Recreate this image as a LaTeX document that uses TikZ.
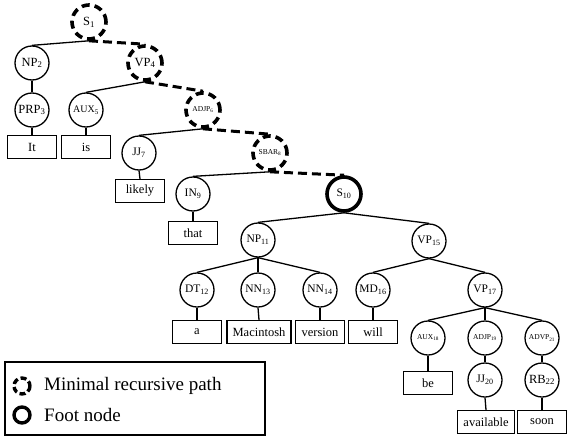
\documentclass[tikz,border=0pt]{standalone}
\usepackage{fontspec}
\setmainfont{Liberation Serif}
\usetikzlibrary{positioning}

\begin{document}
\begin{tikzpicture}[x=1pt, y=-1pt,
  tnode/.style={shape=circle, draw, line width=1.3pt, minimum size=34pt, inner sep=+0pt, font=\fontsize{11.5}{12}\selectfont},
  rnode/.style={tnode, line width=3.6pt, dash pattern=on 8pt off 5pt},
  foot/.style={tnode, line width=3.6pt},
  leaf/.style={shape=rectangle, draw, line width=1.3pt, minimum width=49pt, minimum height=23pt, inner sep=+2pt, font=\fontsize{12.5}{13}\selectfont},
  edge/.style={line width=1.3pt},
  redge/.style={line width=3pt, dash pattern=on 9pt off 5pt},
  tiny/.style={font=\fontsize{7.5}{8}\selectfont}]
  \useasboundingbox (0,0) rectangle (567,439);

  % internal nodes
  \node[rnode, font=\fontsize{12.5}{13}\selectfont] (s1) at (89,22) {S\textsubscript{1}};
  \node[tnode, font=\fontsize{12.5}{13}\selectfont] (np2) at (32,63) {NP\textsubscript{2}};
  \node[rnode, font=\fontsize{12.5}{13}\selectfont] (vp4) at (145,63) {VP\textsubscript{4}};
  \node[tnode, font=\fontsize{12.5}{13}\selectfont] (prp3) at (32,110) {PRP\textsubscript{3}};
  \node[tnode, font=\fontsize{10}{11}\selectfont] (aux5) at (86,110) {AUX\textsubscript{5}};
  \node[rnode, tiny] (adjp6) at (203,110) {ADJP\textsubscript{6}};
  \node[tnode] (jj7) at (139,153) {JJ\textsubscript{7}};
  \node[rnode, tiny] (sbar8) at (270,153) {SBAR\textsubscript{8}};
  \node[tnode] (in9) at (193,194) {IN\textsubscript{9}};
  \node[foot] (s10) at (344,194) {S\textsubscript{10}};
  \node[tnode] (np11) at (258,240) {NP\textsubscript{11}};
  \node[tnode] (vp15) at (429,241) {VP\textsubscript{15}};
  \node[tnode] (dt12) at (197,290) {DT\textsubscript{12}};
  \node[tnode] (nn13) at (258,290) {NN\textsubscript{13}};
  \node[tnode] (nn14) at (320,290) {NN\textsubscript{14}};
  \node[tnode] (md16) at (373,290) {MD\textsubscript{16}};
  \node[tnode] (vp17) at (485,290) {VP\textsubscript{17}};
  \node[tnode, tiny] (aux18) at (428,338) {AUX\textsubscript{18}};
  \node[tnode, tiny] (adjp19) at (485,338) {ADJP\textsubscript{19}};
  \node[tnode, tiny] (advp21) at (542,338) {ADVP\textsubscript{21}};
  \node[tnode] (jj20) at (485,380) {JJ\textsubscript{20}};
  \node[tnode, font=\fontsize{12.5}{13}\selectfont] (rb22) at (542,380) {RB\textsubscript{22}};

  % words
  \node[leaf] (w1) at (32,147) {It};
  \node[leaf] (w2) at (86,147) {is};
  \node[leaf] (w3) at (140,191) {likely};
  \node[leaf] (w4) at (193,233) {that};
  \node[leaf] (w5) at (197,332) {a};
  \node[leaf, minimum width=64pt] (w6) at (259,332) {Macintosh};
  \node[leaf] (w7) at (320,332) {version};
  \node[leaf] (w8) at (373,332) {will};
  \node[leaf] (w9) at (428,383) {be};
  \node[leaf, minimum width=57pt] (w10) at (486,422) {available};
  \node[leaf] (w11) at (542,422) {soon};

  % branches
  \foreach \a/\b in {s1/np2, np2/prp3, prp3/w1, vp4/aux5, aux5/w2, adjp6/jj7, jj7/w3,
                     sbar8/in9, in9/w4, s10/np11, s10/vp15, np11/dt12, np11/nn13, np11/nn14,
                     dt12/w5, nn13/w6, nn14/w7, vp15/md16, vp15/vp17, md16/w8,
                     vp17/aux18, vp17/adjp19, vp17/advp21, aux18/w9, adjp19/jj20, jj20/w10,
                     advp21/rb22, rb22/w11}
    \draw[edge] (\a.south) -- (\b.north);

  % minimal recursive path
  \foreach \a/\b in {s1/vp4, vp4/adjp6, adjp6/sbar8, sbar8/s10}
    \draw[redge] (\a.south) -- (\b.north);

  % legend
  \draw[line width=1.3pt] (5,362) rectangle (265,435);
  \draw[line width=3.4pt, dash pattern=on 6pt off 3pt] (22,386) circle (8);
  \draw[line width=3.4pt] (22,415) circle (8);
  \node[anchor=west, inner sep=0pt, font=\fontsize{19}{20}\selectfont] (lpath) at (44,386) {Minimal recursive path};
  \node[anchor=west, inner sep=0pt, font=\fontsize{19}{20}\selectfont] (lfoot) at (44,415) {Foot node};
\end{tikzpicture}
\end{document}
